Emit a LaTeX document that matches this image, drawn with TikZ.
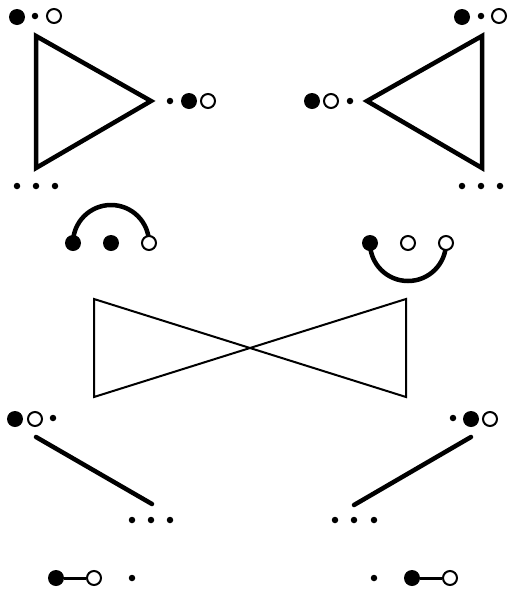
\documentclass[tikz,border=0pt]{standalone}
\usetikzlibrary{backgrounds}
\begin{document}
\begin{tikzpicture}[x=1pt,y=-1pt,
  bigdot/.style={circle,fill=black,inner sep=0pt,minimum size=16pt},
  opendot/.style={circle,draw=black,fill=white,line width=2pt,inner sep=0pt,minimum size=14pt},
  smalldot/.style={circle,fill=black,inner sep=0pt,minimum size=6.5pt},
  thickline/.style={line width=4.5pt,line cap=round},
  shapeline/.style={line width=4.5pt,line join=miter},
  thinline/.style={line width=2pt}]
\useasboundingbox (0,0) rectangle (507,590);
% top-left group
\node[bigdot] (tl1) at (17,17) {};
\node[smalldot] (tl2) at (35,16) {};
\node[opendot] (tl3) at (54,16) {};
\node[smalldot] (tl4) at (170,101) {};
\node[bigdot] (tl5) at (189,101) {};
\node[opendot] (tl6) at (208,101) {};
\node[smalldot] (tl7) at (17,186) {};
\node[smalldot] (tl8) at (36,186) {};
\node[smalldot] (tl9) at (55,186) {};
\draw[shapeline] (36,36) -- (151,101) -- (36,168) -- cycle;
% top-right group
\node[bigdot] (tr1) at (462,17) {};
\node[smalldot] (tr2) at (481,16) {};
\node[opendot] (tr3) at (499,16) {};
\node[bigdot] (tr4) at (312,101) {};
\node[opendot] (tr5) at (331,101) {};
\node[smalldot] (tr6) at (350,101) {};
\node[smalldot] (tr7) at (462,186) {};
\node[smalldot] (tr8) at (481,186) {};
\node[smalldot] (tr9) at (500,186) {};
\draw[shapeline] (482,36) -- (367,101) -- (482,168) -- cycle;
% arcs
\node[bigdot] (ma1) at (73,243) {};
\node[bigdot] (ma2) at (111,243) {};
\node[opendot] (ma3) at (149,243) {};
\node[bigdot] (mb1) at (370,243) {};
\node[opendot] (mb2) at (408,243) {};
\node[opendot] (mb3) at (446,243) {};
\begin{scope}[on background layer]
\draw[line width=4.5pt] (ma1.center) arc[start angle=180,end angle=360,radius=38];
\draw[line width=4.5pt] (mb1.center) arc[start angle=180,end angle=0,radius=38];
\end{scope}
% bowtie
\draw[thinline] (94,299) -- (406,397) -- (406,299) -- (94,397) -- cycle;
% bottom-left
\node[bigdot] (bl1) at (15,419) {};
\node[opendot] (bl2) at (35,419) {};
\node[smalldot] (bl3) at (53,418) {};
\draw[thickline] (36,437) -- (152,504);
\node[smalldot] (bl4) at (132,520) {};
\node[smalldot] (bl5) at (151,520) {};
\node[smalldot] (bl6) at (170,520) {};
% bottom-right
\node[smalldot] (br1) at (453,418) {};
\node[bigdot] (br2) at (471,419) {};
\node[opendot] (br3) at (490,419) {};
\draw[thickline] (471,437) -- (354,505);
\node[smalldot] (br4) at (335,520) {};
\node[smalldot] (br5) at (354,520) {};
\node[smalldot] (br6) at (374,520) {};
% bottom row
\node[bigdot] (bb1) at (56,578) {};
\node[opendot] (bb2) at (94,578) {};
\node[smalldot] (bb3) at (132,578) {};
\node[smalldot] (bc1) at (374,578) {};
\node[bigdot] (bc2) at (412,578) {};
\node[opendot] (bc3) at (450,578) {};
\begin{scope}[on background layer]
\draw[line width=3pt] (bb1) -- (bb2);
\draw[line width=3pt] (bc2) -- (bc3);
\end{scope}
\end{tikzpicture}
\end{document}
